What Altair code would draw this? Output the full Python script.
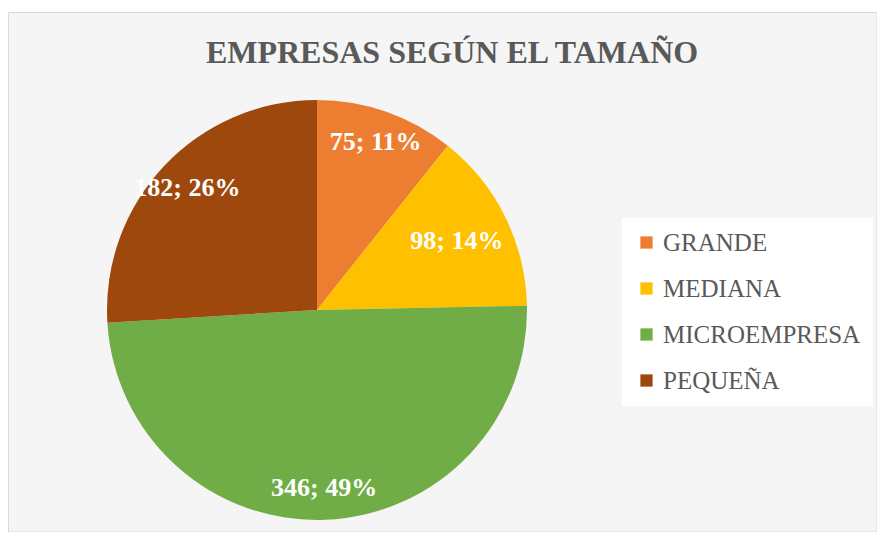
import altair as alt
import pandas as pd

categorias = ["GRANDE", "MEDIANA", "MICROEMPRESA", "PEQUEÑA"]
valores = [75, 98, 346, 182]
porcentajes = [11, 14, 49, 26]
colores = ["#ED7D31", "#FFC000", "#70AD47", "#9E480E"]
titulo_txt = "EMPRESAS SEGÚN EL TAMAÑO"

df = pd.DataFrame({
    "categoria": categorias,
    "valor": valores,
    "orden": list(range(len(categorias))),
    "etiqueta": [f"{v}; {p}%" for v, p in zip(valores, porcentajes)],
})

W, H = 869, 524
cx, cy = 309, 302

frame = alt.Chart(pd.DataFrame({"a": [0]})).mark_rect(
    fill="#F5F5F5", stroke="#D9D9D9", strokeWidth=1
).encode(x=alt.value(0.5), x2=alt.value(W), y=alt.value(4.5), y2=alt.value(H))

titulo = alt.Chart(pd.DataFrame({"t": [titulo_txt]})).mark_text(
    font="Liberation Serif", fontSize=32, fontWeight="bold", color="#595959"
).encode(text="t:N", x=alt.value(444), y=alt.value(45))

base = alt.Chart(df).encode(
    theta=alt.Theta("valor:Q", stack=True),
    order=alt.Order("orden:Q"),
)

pie = base.mark_arc(radius=210).encode(
    x=alt.value(cx), y=alt.value(cy),
    color=alt.Color(
        "categoria:N",
        scale=alt.Scale(domain=categorias, range=colores),
        legend=alt.Legend(
            title=None, orient="none", legendX=614, legendY=210,
            fillColor="white", padding=12, symbolType="square",
            symbolSize=150, symbolStrokeWidth=0,
            labelFont="Liberation Serif", labelFontSize=25,
            labelColor="#595959", rowPadding=20, labelOffset=4,
            labelLimit=400,
        ),
    ),
)

estilo = dict(font="Liberation Serif", fontSize=26, fontWeight="bold", color="white")

etiquetas_a = base.mark_text(radius=178, **estilo).encode(
    x=alt.value(cx), y=alt.value(cy), text="etiqueta:N"
)
etiquetas_b = base.mark_text(radius=156, **estilo).encode(
    x=alt.value(cx), y=alt.value(cy),
    text=alt.condition(alt.datum.categoria == "MEDIANA", "etiqueta:N", alt.value("")),
)
etiquetas_a = etiquetas_a.encode(
    text=alt.condition(alt.datum.categoria != "MEDIANA", "etiqueta:N", alt.value(""))
)

chart = alt.layer(frame, titulo, pie, etiquetas_a, etiquetas_b).properties(
    width=W, height=H, padding=0,
    autosize=alt.AutoSizeParams(type="none"),
    background="white",
).configure_view(stroke=None)

chart.save("out.html", embed_options={"renderer": "svg", "actions": False})
